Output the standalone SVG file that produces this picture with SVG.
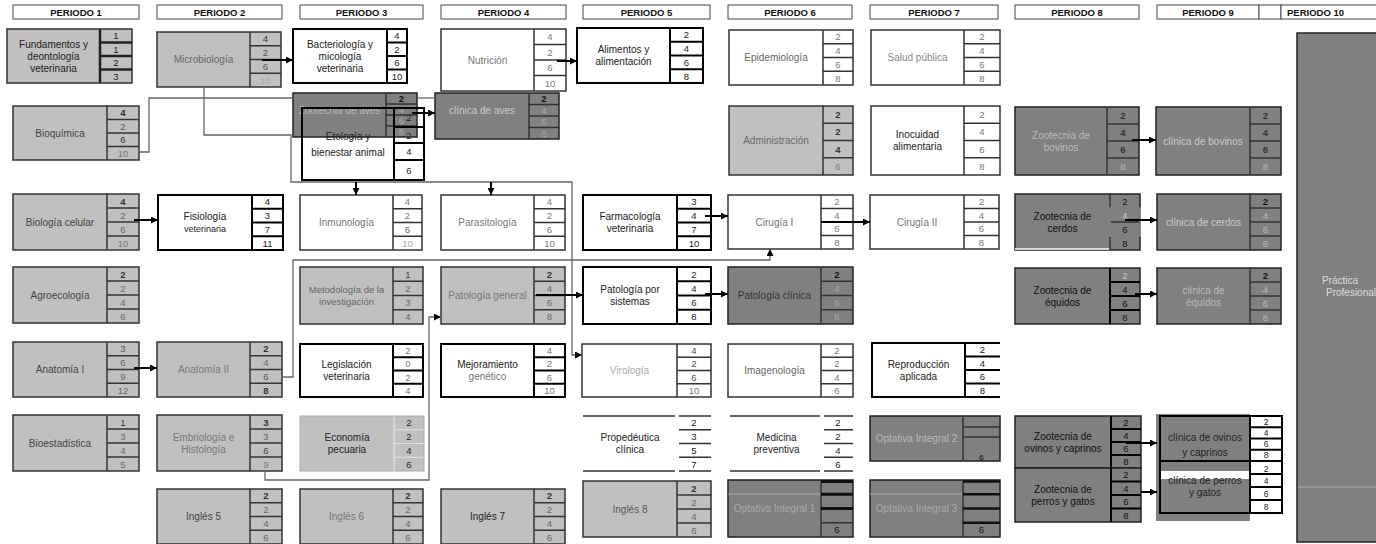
<svg xmlns="http://www.w3.org/2000/svg" width="1376" height="544" viewBox="0 0 1376 544">
<style>
.hd{fill:#fff;stroke:#444;stroke-width:1}
.ht{font-family:"Liberation Sans",Arial,sans-serif;font-weight:bold;font-size:9.5px;fill:#111;text-anchor:middle}
.lg{fill:#c0c0c0;stroke:#333;stroke-width:1.5}
.dk{fill:#808080;stroke:#222;stroke-width:1.5}
.wh{fill:#fff;stroke:#333;stroke-width:1.5}
.wb{fill:#fff;stroke:#000;stroke-width:2}
.sp{fill:none;stroke:#333;stroke-width:1.5}
.sb{fill:none;stroke:#000;stroke-width:2}
.lb{font-family:"Liberation Sans",Arial,sans-serif;font-size:10px;text-anchor:middle;fill:#222}
.nm{font-family:"Liberation Sans",Arial,sans-serif;font-size:9.5px;text-anchor:middle;fill:#222}
.b{font-weight:bold}
.c3{fill:#333}.c4{fill:#444}.c5{fill:#555}.c6{fill:#666}.c7{fill:#777}.c8{fill:#888}.ca{fill:#aaa}.cb{fill:#bbb}.cc{fill:#ccc}.cd{fill:#ddd}.c1{fill:#111}
.gl{fill:none;stroke:#666;stroke-width:1.3}
.ar{fill:none;stroke:#000;stroke-width:2}
</style>
<defs>
<marker id="ah" viewBox="0 0 10 10" refX="10" refY="5" markerWidth="7" markerHeight="7" markerUnits="userSpaceOnUse" orient="auto"><path d="M0,0 L10,5 L0,10 z" fill="#000"/></marker>
</defs>
<rect x="0" y="0" width="1376" height="544" fill="#fff"/>
<g id="headers">
<rect class="hd" x="13" y="5" width="126" height="14"/><text class="ht" x="76" y="15.5">PERIODO 1</text>
<rect class="hd" x="157" y="5" width="125" height="14"/><text class="ht" x="219.5" y="15.5">PERIODO 2</text>
<rect class="hd" x="300" y="5" width="123" height="14"/><text class="ht" x="361.5" y="15.5">PERIODO 3</text>
<rect class="hd" x="441" y="5" width="125" height="14"/><text class="ht" x="503.5" y="15.5">PERIODO 4</text>
<rect class="hd" x="583" y="5" width="127" height="14"/><text class="ht" x="646.5" y="15.5">PERIODO 5</text>
<rect class="hd" x="728" y="5" width="124" height="14"/><text class="ht" x="790" y="15.5">PERIODO 6</text>
<rect class="hd" x="870" y="5" width="128" height="14"/><text class="ht" x="934" y="15.5">PERIODO 7</text>
<rect class="hd" x="1015" y="5" width="124" height="14"/><text class="ht" x="1077" y="15.5">PERIODO 8</text>
<rect class="hd" x="1157" y="5" width="102" height="14"/><text class="ht" x="1208" y="15.5">PERIODO 9</text>
<rect class="hd" x="1259" y="5" width="22" height="14"/>
<rect class="hd" x="1281" y="5" width="100" height="14"/><text class="ht" x="1287" y="15.5" text-anchor="start" style="text-anchor:start">PERIODO 10</text>
</g>

<g id="node-fundamentos">
<rect class="lg" x="7" y="29" width="125" height="54"/>
<path d="M100,29V83M100,42.5H132M100,56H132M100,69.5H132" fill="none" stroke="#222" stroke-width="2.5"/>
<text class="lb" x="53.5" y="47.5">Fundamentos y</text><text class="lb" x="53.5" y="59.5">deontología</text><text class="lb" x="53.5" y="71.5">veterinaria</text>
<text class="nm" x="116" y="39.3">1</text><text class="nm" x="116" y="52.8">1</text><text class="nm" x="116" y="66.3">2</text><text class="nm" x="116" y="79.8">3</text>
</g>
<g id="node-bioquimica">
<rect class="lg" x="13" y="106" width="126" height="54"/>
<path class="sp" d="M107,106V160M107,119.5H139M107,133H139M107,146.5H139"/>
<text class="lb c4" x="60" y="136.5">Bioquímica</text>
<text class="nm b c3" x="123" y="116.3">4</text><text class="nm c5" x="123" y="129.8">2</text><text class="nm c3" x="123" y="143.3">6</text><text class="nm c7" x="123" y="156.8">10</text>
</g>
<g id="node-biologia-celular">
<rect class="lg" x="13" y="194" width="126" height="56"/>
<path class="sp" d="M107,194V250M107,208H139M107,222H139M107,236H139"/>
<text class="lb c4" x="60" y="225.5">Biología celular</text>
<text class="nm b c3" x="123" y="204.5">4</text><text class="nm c6" x="123" y="218.5">2</text><text class="nm c6" x="123" y="232.5">6</text><text class="nm c7" x="123" y="246.5">10</text>
</g>
<g id="node-agroecologia">
<rect class="lg" x="13" y="267" width="126" height="56"/>
<path class="sp" d="M107,267V323M107,281H139M107,295H139M107,309H139"/>
<text class="lb c4" x="60" y="298.5">Agroecología</text>
<text class="nm b c3" x="123" y="277.5">2</text><text class="nm c6" x="123" y="291.5">2</text><text class="nm c6" x="123" y="305.5">4</text><text class="nm c6" x="123" y="319.5">6</text>
</g>
<g id="node-anatomia-1">
<rect class="lg" x="13" y="342" width="126" height="55"/>
<path class="sp" d="M107,342V397M107,355.75H139M107,369.5H139M107,383.25H139"/>
<text class="lb c4" x="60" y="373">Anatomía I</text>
<text class="nm c5" x="123" y="352.4">3</text><text class="nm c6" x="123" y="366.1">6</text><text class="nm c6" x="123" y="379.9">9</text><text class="nm c6" x="123" y="393.6">12</text>
</g>
<g id="node-bioestadistica">
<rect class="lg" x="13" y="415" width="126" height="56"/>
<path class="sp" d="M107,415V471M107,429H139M107,443H139M107,457H139"/>
<text class="lb c4" x="60" y="446.5">Bioestadística</text>
<text class="nm c3" x="123" y="425.5">1</text><text class="nm c6" x="123" y="439.5">3</text><text class="nm c6" x="123" y="453.5">4</text><text class="nm c6" x="123" y="467.5">5</text>
</g>

<g id="node-microbiologia">
<rect class="lg" x="157" y="32" width="124" height="55"/>
<path class="sp" d="M250,32V87M250,45.75H281M250,59.5H281M250,73.25H281"/>
<text class="lb c6" x="203.5" y="63">Microbiología</text>
<text class="nm c3" x="265.5" y="42.4">4</text><text class="nm c5" x="265.5" y="56.1">2</text><text class="nm c5" x="265.5" y="69.9">6</text><text class="nm ca" x="265.5" y="83.6">10</text>
</g>
<g id="node-fisiologia">
<rect class="wb" x="158" y="195" width="125" height="55"/>
<path class="sb" d="M252,195V250M252,208.75H283M252,222.5H283M252,236.25H283"/>
<text class="lb" x="205" y="220">Fisiología</text><text class="lb" x="205" y="232" style="font-size:9px">veterinaria</text>
<text class="nm" x="267.5" y="205.4">4</text><text class="nm" x="267.5" y="219.1">3</text><text class="nm" x="267.5" y="232.9">7</text><text class="nm" x="267.5" y="246.6">11</text>
</g>
<g id="node-anatomia-2">
<rect class="lg" x="157" y="342" width="125" height="55"/>
<path class="sp" d="M250,342V397M250,355.75H282M250,369.5H282M250,383.25H282"/>
<text class="lb c7" x="203.5" y="373">Anatomía II</text>
<text class="nm b c3" x="266" y="352.4">2</text><text class="nm c6" x="266" y="366.1">4</text><text class="nm c5" x="266" y="379.9">6</text><text class="nm b c3" x="266" y="393.6">8</text>
</g>
<g id="node-embriologia">
<rect class="lg" x="157" y="415" width="125" height="56"/>
<path class="sp" d="M250,415V471M250,429H282M250,443H282M250,457H282"/>
<text class="lb c7" x="203.5" y="440.5">Embriología e</text><text class="lb c7" x="203.5" y="452.5">Histología</text>
<text class="nm b c3" x="266" y="425.5">3</text><text class="nm c6" x="266" y="439.5">3</text><text class="nm c4" x="266" y="453.5">6</text><text class="nm c7" x="266" y="467.5">9</text>
</g>
<g id="node-ingles-5">
<rect class="lg" x="157" y="489" width="125" height="55"/>
<path class="sp" d="M250,489V544M250,502.75H282M250,516.5H282M250,530.25H282"/>
<text class="lb c4" x="203.5" y="520">Inglés 5</text>
<text class="nm b c3" x="266" y="499.4">2</text><text class="nm c6" x="266" y="513.1">2</text><text class="nm c6" x="266" y="526.9">4</text><text class="nm c6" x="266" y="540.6">6</text>
</g>

<g id="node-bacteriologia">
<rect class="wb" x="293" y="29" width="114" height="54"/>
<path class="sb" d="M387,29V83M387,42.5H407M387,56H407M387,69.5H407"/>
<text class="lb" x="340" y="47.5">Bacteriología y</text><text class="lb" x="340" y="59.5">micología</text><text class="lb" x="340" y="71.5">veterinaria</text>
<text class="nm" x="397" y="39.3">4</text><text class="nm" x="397" y="52.8">2</text><text class="nm" x="397" y="66.3">6</text><text class="nm" x="397" y="79.8">10</text>
</g>
<g id="node-zootecnia-aves">
<rect class="dk" x="293" y="93" width="124" height="44"/>
<path class="sp" d="M386,93V137M386,104H417M386,115H417M386,126H417"/>
<text class="lb cb" x="339.5" y="114">Zootecnia de aves</text>
<text class="nm b c1" x="401.5" y="102">2</text><text class="nm ca" x="401.5" y="113">4</text><text class="nm ca" x="401.5" y="124">6</text><text class="nm ca" x="401.5" y="135">8</text>
</g>
<g id="node-etologia">
<rect x="302" y="108" width="122" height="72" fill="none" stroke="#000" stroke-width="2"/>
<path class="sb" d="M394,108V180M394,127H424M394,143H424M394,160H424"/>
<text class="lb" x="348" y="139.5">Etología y</text><text class="lb" x="348" y="155.5">bienestar animal</text>
<text class="nm" x="409" y="121">2</text><text class="nm" x="409" y="138.5">2</text><text class="nm" x="409" y="155">4</text><text class="nm" x="409" y="173.5">6</text>
</g>
<g id="node-inmunologia">
<rect class="wh" x="300" y="195" width="122" height="55"/>
<path class="sp" d="M393,195V250M393,208.75H422M393,222.5H422M393,236.25H422"/>
<text class="lb c7" x="346.5" y="226">Inmunología</text>
<text class="nm c7" x="407.5" y="205.4">4</text><text class="nm c7" x="407.5" y="219.1">2</text><text class="nm c6" x="407.5" y="232.9">6</text><text class="nm ca" x="407.5" y="246.6">10</text>
</g>
<g id="node-metodologia">
<rect class="lg" x="300" y="267" width="123" height="57"/>
<path class="sp" d="M393,267V324M393,281.25H423M393,295.5H423M393,309.75H423"/>
<text class="lb c6" x="346.5" y="293" style="font-size:9.5px">Metodología de la</text><text class="lb c6" x="346.5" y="305" style="font-size:9.5px">investigación</text>
<text class="nm c4" x="408" y="277.6">1</text><text class="nm c6" x="408" y="291.9">2</text><text class="nm c6" x="408" y="306.1">3</text><text class="nm c6" x="408" y="320.4">4</text>
</g>
<g id="node-legislacion">
<rect class="wb" x="300" y="344" width="123" height="53"/>
<path class="sb" d="M393,344V397M393,357.25H423M393,370.5H423M393,383.75H423"/>
<text class="lb" x="346.5" y="368">Legislación</text><text class="lb" x="346.5" y="380">veterinaria</text>
<text class="nm c7" x="408" y="354.1">2</text><text class="nm c7" x="408" y="367.4">0</text><text class="nm c7" x="408" y="380.6">2</text><text class="nm c7" x="408" y="393.9">4</text>
</g>
<g id="node-economia">
<rect x="300" y="416" width="124" height="55" fill="#c0c0c0" stroke="#aaa" stroke-width="1"/>
<path d="M394,416V471M394,429.75H424M394,443.5H424M394,457.25H424" fill="none" stroke="#e2e2e2" stroke-width="1.2"/>
<text class="lb" x="347" y="441">Economía</text><text class="lb" x="347" y="453">pecuaria</text>
<text class="nm" x="409" y="426.4">2</text><text class="nm" x="409" y="440.1">2</text><text class="nm" x="409" y="453.9">4</text><text class="nm" x="409" y="467.6">6</text>
</g>
<g id="node-ingles-6">
<rect class="lg" x="300" y="489" width="123" height="55"/>
<path class="sp" d="M393,489V544M393,502.75H423M393,516.5H423M393,530.25H423"/>
<text class="lb c7" x="346.5" y="520">Inglés 6</text>
<text class="nm b c3" x="408" y="499.4">2</text><text class="nm c6" x="408" y="513.1">2</text><text class="nm c6" x="408" y="526.9">4</text><text class="nm c6" x="408" y="540.6">6</text>
</g>

<g id="node-nutricion">
<rect class="wh" x="441" y="29" width="125" height="62"/>
<path class="sp" d="M534,29V91M534,44.5H566M534,60H566M534,75.5H566"/>
<text class="lb c7" x="487.5" y="63.5">Nutrición</text>
<text class="nm c7" x="550" y="40.3">4</text><text class="nm c7" x="550" y="55.8">2</text><text class="nm c7" x="550" y="71.3">6</text><text class="nm c7" x="550" y="86.8">10</text>
</g>
<g id="node-clinica-aves">
<rect class="dk" x="435" y="93" width="124" height="46"/>
<path class="sp" d="M529,93V139M529,104.5H559M529,116H559M529,127.5H559"/>
<text class="lb cc" x="482" y="114">clínica de aves</text>
<text class="nm b c1" x="544" y="102.3">2</text><text class="nm ca" x="544" y="113.8">4</text><text class="nm ca" x="544" y="125.3">6</text><text class="nm ca" x="544" y="136.8">8</text>
</g>
<g id="node-parasitologia">
<rect class="wh" x="441" y="195" width="124" height="55"/>
<path class="sp" d="M534,195V250M534,208.75H565M534,222.5H565M534,236.25H565"/>
<text class="lb c7" x="487.5" y="226">Parasitología</text>
<text class="nm c7" x="549.5" y="205.4">4</text><text class="nm c7" x="549.5" y="219.1">2</text><text class="nm c7" x="549.5" y="232.9">6</text><text class="nm c7" x="549.5" y="246.6">10</text>
</g>
<g id="node-patologia-general">
<rect class="lg" x="441" y="267" width="124" height="57"/>
<path class="sp" d="M534,267V324M534,281.25H565M534,295.5H565M534,309.75H565"/>
<text class="lb c7" x="487.5" y="299">Patología general</text>
<text class="nm b c3" x="549.5" y="277.6">2</text><text class="nm c6" x="549.5" y="291.9">4</text><text class="nm c6" x="549.5" y="306.1">6</text><text class="nm c6" x="549.5" y="320.4">8</text>
</g>
<g id="node-mejoramiento">
<rect class="wb" x="441" y="344" width="124" height="53"/>
<path class="sb" d="M534,344V397M534,357.25H565M534,370.5H565M534,383.75H565"/>
<text class="lb" x="487.5" y="368">Mejoramiento</text><text class="lb c7" x="487.5" y="380">genético</text>
<text class="nm c7" x="549.5" y="354.1">4</text><text class="nm c7" x="549.5" y="367.4">2</text><text class="nm c7" x="549.5" y="380.6">6</text><text class="nm c7" x="549.5" y="393.9">10</text>
</g>
<g id="node-ingles-7">
<rect class="lg" x="441" y="489" width="124" height="55"/>
<path class="sp" d="M534,489V544M534,502.75H565M534,516.5H565M534,530.25H565"/>
<text class="lb" x="487.5" y="520">Inglés 7</text>
<text class="nm b c3" x="549.5" y="499.4">2</text><text class="nm c6" x="549.5" y="513.1">2</text><text class="nm c6" x="549.5" y="526.9">4</text><text class="nm c6" x="549.5" y="540.6">6</text>
</g>

<g id="node-alimentos">
<rect class="wb" x="577" y="28" width="126" height="55"/>
<path class="sb" d="M670,28V83M670,41.75H703M670,55.5H703M670,69.25H703"/>
<text class="lb" x="623.5" y="53">Alimentos y</text><text class="lb" x="623.5" y="65">alimentación</text>
<text class="nm" x="686.5" y="38.4">2</text><text class="nm" x="686.5" y="52.1">4</text><text class="nm" x="686.5" y="65.9">6</text><text class="nm" x="686.5" y="79.6">8</text>
</g>
<g id="node-farmacologia">
<rect class="wb" x="583" y="195" width="128" height="55"/>
<path class="sb" d="M677,195V250M677,208.75H711M677,222.5H711M677,236.25H711"/>
<text class="lb" x="630" y="220">Farmacología</text><text class="lb" x="630" y="232">veterinaria</text>
<text class="nm" x="694" y="205.4">3</text><text class="nm" x="694" y="219.1">4</text><text class="nm" x="694" y="232.9">7</text><text class="nm" x="694" y="246.6">10</text>
</g>
<g id="node-patologia-sistemas">
<rect class="wb" x="583" y="267" width="128" height="57"/>
<path class="sb" d="M677,267V324M677,281.25H711M677,295.5H711M677,309.75H711"/>
<text class="lb" x="630" y="293">Patología por</text><text class="lb" x="630" y="305">sistemas</text>
<text class="nm" x="694" y="277.6">2</text><text class="nm" x="694" y="291.9">4</text><text class="nm" x="694" y="306.1">6</text><text class="nm" x="694" y="320.4">8</text>
</g>
<g id="node-virologia">
<rect class="wh" x="582" y="344" width="129" height="53"/>
<path class="sp" d="M677,344V397M677,357.25H711M677,370.5H711M677,383.75H711"/>
<text class="lb ca" x="629.5" y="374">Virología</text>
<text class="nm c5" x="694" y="354.1">4</text><text class="nm c5" x="694" y="367.4">2</text><text class="nm c5" x="694" y="380.6">6</text><text class="nm c7" x="694" y="393.9">10</text>
</g>
<g id="node-propedeutica">
<path class="sp" d="M583,416H675M679,416H711M583,471H675M679,471H711M679,429.75H711M679,443.5H711M679,457.25H711"/>
<text class="lb" x="630" y="441">Propedéutica</text><text class="lb" x="630" y="453">clínica</text>
<text class="nm" x="694" y="426.4">2</text><text class="nm" x="694" y="440.1">3</text><text class="nm" x="694" y="453.9">5</text><text class="nm" x="694" y="467.6">7</text>
</g>
<g id="node-ingles-8">
<rect class="lg" x="583" y="481" width="128" height="56"/>
<path class="sp" d="M677,481V537M677,495H711M677,509H711M677,523H711"/>
<text class="lb c5" x="630" y="512.5">Inglés 8</text>
<text class="nm b c3" x="694" y="491.5">2</text><text class="nm c6" x="694" y="505.5">2</text><text class="nm c6" x="694" y="519.5">4</text><text class="nm c6" x="694" y="533.5">6</text>
</g>

<g id="node-epidemiologia">
<rect class="wh" x="729" y="30" width="124" height="55"/>
<path class="sp" d="M823,30V85M823,43.75H853M823,57.5H853M823,71.25H853"/>
<text class="lb c6" x="776" y="61">Epidemiología</text>
<text class="nm c7" x="838" y="40.4">2</text><text class="nm c7" x="838" y="54.1">4</text><text class="nm c7" x="838" y="67.9">6</text><text class="nm c7" x="838" y="81.6">8</text>
</g>
<g id="node-administracion">
<rect class="lg" x="729" y="106" width="124" height="69"/>
<path class="sp" d="M823,106V175M823,123.25H853M823,140.5H853M823,157.75H853"/>
<text class="lb c6" x="776" y="144">Administración</text>
<text class="nm b c3" x="838" y="118.1">2</text><text class="nm b c3" x="838" y="135.4">2</text><text class="nm b c3" x="838" y="152.6">4</text><text class="nm c7" x="838" y="169.9">6</text>
</g>
<g id="node-cirugia-1">
<rect class="wh" x="728" y="195" width="125" height="54"/>
<path class="sp" d="M821,195V249M821,208.5H853M821,222H853M821,235.5H853"/>
<text class="lb c7" x="774.5" y="225.5">Cirugía I</text>
<text class="nm c7" x="837" y="205.3">2</text><text class="nm c7" x="837" y="218.8">4</text><text class="nm c7" x="837" y="232.3">6</text><text class="nm c7" x="837" y="245.8">8</text>
</g>
<g id="node-patologia-clinica">
<rect class="dk" x="728" y="267" width="125" height="57"/>
<path class="sp" d="M821,267V324M821,281.25H853M821,295.5H853M821,309.75H853"/>
<text class="lb c3" x="774.5" y="299">Patología clínica</text>
<text class="nm b c1" x="837" y="277.6">2</text><text class="nm ca" x="837" y="291.9">4</text><text class="nm ca" x="837" y="306.1">6</text><text class="nm ca" x="837" y="320.4">8</text>
</g>
<g id="node-imagenologia">
<rect class="wh" x="728" y="344" width="125" height="53"/>
<path class="sp" d="M821,344V397M821,357.25H853M821,370.5H853M821,383.75H853"/>
<text class="lb c6" x="774.5" y="374">Imagenología</text>
<text class="nm c7" x="837" y="354.1">2</text><text class="nm c7" x="837" y="367.4">2</text><text class="nm c7" x="837" y="380.6">4</text><text class="nm c7" x="837" y="393.9">6</text>
</g>
<g id="node-medicina-preventiva">
<path class="sp" d="M730,416H820M824,416H853M730,471H820M824,471H853M824,429.75H853M824,443.5H853M824,457.25H853"/>
<text class="lb" x="776.5" y="441">Medicina</text><text class="lb" x="776.5" y="453">preventiva</text>
<text class="nm" x="838" y="426.4">2</text><text class="nm" x="838" y="440.1">2</text><text class="nm" x="838" y="453.9">4</text><text class="nm" x="838" y="467.6">6</text>
</g>
<g id="node-optativa-1">
<rect class="dk" x="728" y="480" width="125" height="57"/>
<path d="M728,494H821" stroke="#aaa" stroke-width="1"/>
<path class="sp" d="M821,480V537M821,522.75H853"/>
<path d="M821,481.5H853M821,494.25H853M821,508.5H853" stroke="#111" stroke-width="3"/>
<text class="lb ca" x="774.5" y="512">Optativa Integral 1</text>
<text class="nm c1" x="837" y="533.4">6</text>
</g>

<g id="node-salud-publica">
<rect class="wh" x="871" y="30" width="129" height="55"/>
<path class="sp" d="M964,30V85M964,43.75H1000M964,57.5H1000M964,71.25H1000"/>
<text class="lb c8" x="917.5" y="61">Salud pública</text>
<text class="nm c7" x="982" y="40.4">2</text><text class="nm c7" x="982" y="54.1">4</text><text class="nm c7" x="982" y="67.9">6</text><text class="nm c7" x="982" y="81.6">8</text>
</g>
<g id="node-inocuidad">
<rect class="wh" x="871" y="106" width="129" height="69"/>
<path class="sp" d="M964,106V175M964,123.25H1000M964,140.5H1000M964,157.75H1000"/>
<text class="lb" x="917.5" y="138">Inocuidad</text><text class="lb" x="917.5" y="150">alimentaria</text>
<text class="nm c7" x="982" y="118.1">2</text><text class="nm c7" x="982" y="135.4">4</text><text class="nm c7" x="982" y="152.6">6</text><text class="nm c7" x="982" y="169.9">8</text>
</g>
<g id="node-cirugia-2">
<rect class="wh" x="870" y="195" width="129" height="54"/>
<path class="sp" d="M964,195V249M964,208.5H999M964,222H999M964,235.5H999"/>
<text class="lb c7" x="917" y="225.5">Cirugía II</text>
<text class="nm c7" x="981.5" y="205.3">2</text><text class="nm c7" x="981.5" y="218.8">4</text><text class="nm c7" x="981.5" y="232.3">6</text><text class="nm c7" x="981.5" y="245.8">8</text>
</g>
<g id="node-reproduccion">
<path class="sb" d="M1000,343H872V397H1000M965,343V397M965,356.5H1000M965,370H1000M965,383.5H1000"/>
<text class="lb" x="918.5" y="367.5">Reproducción</text><text class="lb" x="918.5" y="379.5">aplicada</text>
<text class="nm" x="982.5" y="353.3">2</text><text class="nm" x="982.5" y="366.8">4</text><text class="nm" x="982.5" y="380.3">6</text><text class="nm" x="982.5" y="393.8">8</text>
</g>
<g id="node-optativa-2">
<rect class="dk" x="870" y="416" width="130" height="45"/>
<path class="sp" d="M963,416V461M963,427H1000M963,437H1000"/>
<text class="lb cb" x="916.5" y="442">Optativa Integral 2</text>
<text class="nm c1" x="981.5" y="459.5" style="font-size:8px">6</text>
</g>
<g id="node-optativa-3">
<rect class="dk" x="870" y="480" width="130" height="57"/>
<path d="M870,494H963" stroke="#aaa" stroke-width="1"/>
<path class="sp" d="M963,480V537"/>
<path d="M963,481.5H1000M963,494.25H1000M963,508.5H1000M963,522.75H1000" stroke="#111" stroke-width="2.5"/>
<text class="lb ca" x="916.5" y="512">Optativa Integral 3</text>
<text class="nm c1" x="981.5" y="533.4">6</text>
</g>

<g id="node-zootecnia-bovinos">
<rect class="dk" x="1015" y="107" width="124" height="68"/>
<path class="sp" d="M1107,107V175M1107,124H1139M1107,141H1139M1107,158H1139"/>
<text class="lb cb" x="1061" y="138.5">Zootecnia de</text><text class="lb cb" x="1061" y="150.5">bovinos</text>
<text class="nm b c3" x="1123" y="119">2</text><text class="nm b c3" x="1123" y="136">4</text><text class="nm b c3" x="1123" y="153">6</text><text class="nm cb" x="1123" y="170">8</text>
</g>
<g id="node-zootecnia-cerdos">
<rect class="dk" x="1015" y="194" width="125" height="56" stroke="none"/>
<path d="M1015,249H1110" stroke="#fff" stroke-width="1.5"/>
<path class="sp" d="M1110,194V250M1110,208H1140M1110,222H1140M1110,236H1140"/>
<rect x="1110" y="208" width="30" height="28" fill="none" stroke="#bbb" stroke-width="1"/>
<text class="lb c1" x="1062.5" y="219.5">Zootecnia de</text><text class="lb c1" x="1062.5" y="231.5">cerdos</text>
<text class="nm c1" x="1125" y="204.5">2</text><text class="nm cc" x="1125" y="218.5">4</text><text class="nm c1" x="1125" y="232.5">6</text><text class="nm c1" x="1125" y="246.5">8</text>
</g>
<g id="node-zootecnia-equidos">
<rect class="dk" x="1015" y="268" width="125" height="56"/>
<path class="sb" d="M1110,268V324M1110,282H1140M1110,296H1140M1110,310H1140"/>
<text class="lb c1" x="1062.5" y="293.5">Zootecnia de</text><text class="lb c1" x="1062.5" y="305.5">équidos</text>
<text class="nm cc" x="1125" y="278.5">2</text><text class="nm c1" x="1125" y="292.5">4</text><text class="nm c1" x="1125" y="306.5">6</text><text class="nm c1" x="1125" y="320.5">8</text>
</g>
<g id="node-zootecnia-ovinos">
<rect class="dk" x="1015" y="416" width="126" height="52"/>
<path class="sb" d="M1111,416V468M1111,429H1141M1111,442H1141M1111,455H1141"/>
<text class="lb c1" x="1063" y="439.5">Zootecnia de</text><text class="lb c1" x="1063" y="451.5">ovinos y caprinos</text>
<text class="nm c1" x="1126" y="426">2</text><text class="nm c1" x="1126" y="439">4</text><text class="nm c1" x="1126" y="452">6</text><text class="nm c1" x="1126" y="465">8</text>
</g>
<g id="node-zootecnia-perros">
<rect class="dk" x="1015" y="468" width="126" height="54"/>
<path class="sb" d="M1111,468V522M1111,481.5H1141M1111,495H1141M1111,508.5H1141"/>
<text class="lb c1" x="1063" y="492.5">Zootecnia de</text><text class="lb c1" x="1063" y="504.5">perros y gatos</text>
<text class="nm c1" x="1126" y="478.3">2</text><text class="nm c1" x="1126" y="491.8">4</text><text class="nm c1" x="1126" y="505.3">6</text><text class="nm c1" x="1126" y="518.8">8</text>
</g>

<g id="node-clinica-bovinos">
<rect class="dk" x="1156" y="107" width="125" height="68"/>
<path class="sp" d="M1250,107V175M1250,124H1281M1250,141H1281M1250,158H1281"/>
<text class="lb cc" x="1203" y="144.5">clínica de bovinos</text>
<text class="nm b c3" x="1265.5" y="119">2</text><text class="nm b c3" x="1265.5" y="136">4</text><text class="nm b c3" x="1265.5" y="153">6</text><text class="nm cb" x="1265.5" y="170">8</text>
</g>
<g id="node-clinica-cerdos">
<rect class="dk" x="1157" y="194" width="124" height="56"/>
<path class="sp" d="M1250,194V250M1250,208H1281M1250,222H1281M1250,236H1281"/>
<text class="lb cc" x="1203.5" y="225.5">clínica de cerdos</text>
<text class="nm b c1" x="1265.5" y="204.5">2</text><text class="nm cb" x="1265.5" y="218.5">4</text><text class="nm cb" x="1265.5" y="232.5">6</text><text class="nm cb" x="1265.5" y="246.5">8</text>
</g>
<g id="node-clinica-equidos">
<rect class="dk" x="1157" y="268" width="124" height="56"/>
<path class="sp" d="M1250,268V324M1250,282H1281M1250,296H1281M1250,310H1281"/>
<text class="lb cb" x="1203.5" y="293.5">clínica de</text><text class="lb cb" x="1203.5" y="305.5">équidos</text>
<text class="nm b c1" x="1265.5" y="278.5">2</text><text class="nm cb" x="1265.5" y="292.5">4</text><text class="nm cb" x="1265.5" y="306.5">6</text><text class="nm cb" x="1265.5" y="320.5">8</text>
</g>
<g id="node-clinica-ovinos">
<rect x="1156" y="414" width="94" height="107" fill="#808080"/>
<rect x="1160" y="416" width="122" height="45" fill="none" stroke="#000" stroke-width="2"/>
<path class="sb" d="M1250,416V461M1250,427.25H1282M1250,438.5H1282M1250,449.75H1282"/>
<text class="lb" x="1205" y="440.5">clínica de ovinos</text><text class="lb" x="1205" y="455.5">y caprinos</text>
<text class="nm" x="1266" y="424.6" style="font-size:8.5px">2</text><text class="nm" x="1266" y="435.9" style="font-size:8.5px">4</text><text class="nm" x="1266" y="447.1" style="font-size:8.5px">6</text><text class="nm" x="1266" y="458.4" style="font-size:8.5px">8</text>
</g>
<g id="node-clinica-perros">
<rect x="1161" y="471" width="89" height="8" fill="#fff"/>
<rect x="1160" y="461" width="122" height="52" fill="none" stroke="#000" stroke-width="2"/>
<path class="sb" d="M1250,461V513M1250,474H1282M1250,487H1282M1250,500H1282"/>
<text class="lb" x="1205" y="483.5">clínica de perros</text><text class="lb" x="1205" y="495.5">y gatos</text>
<text class="nm" x="1266" y="471.5" style="font-size:8.5px">2</text><text class="nm" x="1266" y="484" style="font-size:8.5px">4</text><text class="nm" x="1266" y="497" style="font-size:8.5px">6</text><text class="nm" x="1266" y="510" style="font-size:8.5px">8</text>
</g>
<g id="node-practica-profesional">
<rect class="dk" x="1297" y="33" width="85" height="509"/>
<path d="M1298,487H1376" stroke="#aaa" stroke-width="1"/>
<text class="lb cd" x="1322" y="284" style="text-anchor:start">Práctica</text>
<text class="lb cd" x="1326" y="296" style="text-anchor:start">Profesional</text>
</g>

<g id="connectors">
<path class="gl" d="M139,152H149V98H293"/>
<path class="gl" d="M417,98H435"/>
<path class="gl" d="M204,87V135H291V182H572V355H576"/>
<path class="gl" d="M576,355H582" marker-end="url(#ah)"/>
<path class="ar" d="M356,182V195" marker-end="url(#ah)"/>
<path class="ar" d="M491,182V195" marker-end="url(#ah)"/>
<path class="gl" d="M282,377H293V260H770V249" marker-end="url(#ah)"/>
<path class="gl" d="M265,471V480H429V317H441" marker-end="url(#ah)"/>
<path class="ar" d="M262,60H293" marker-end="url(#ah)"/>
<path class="ar" d="M412,113H435" marker-end="url(#ah)"/>
<path class="ar" d="M557,61H577" marker-end="url(#ah)"/>
<path class="ar" d="M134,220H158" marker-end="url(#ah)"/>
<path class="ar" d="M705,216H728" marker-end="url(#ah)"/>
<path class="ar" d="M821,222H870" marker-end="url(#ah)"/>
<path class="ar" d="M134,368H157" marker-end="url(#ah)"/>
<path class="ar" d="M536,295H583" marker-end="url(#ah)"/>
<path class="ar" d="M705,294H728" marker-end="url(#ah)"/>
<path class="ar" d="M1132,140H1156" marker-end="url(#ah)"/>
<path class="ar" d="M1125,220H1157" marker-end="url(#ah)"/>
<path class="ar" d="M1135,294H1157" marker-end="url(#ah)"/>
<path class="ar" d="M1126,443H1157" marker-end="url(#ah)"/>
<path class="ar" d="M1141,492H1157" marker-end="url(#ah)"/>
</g>
</svg>
